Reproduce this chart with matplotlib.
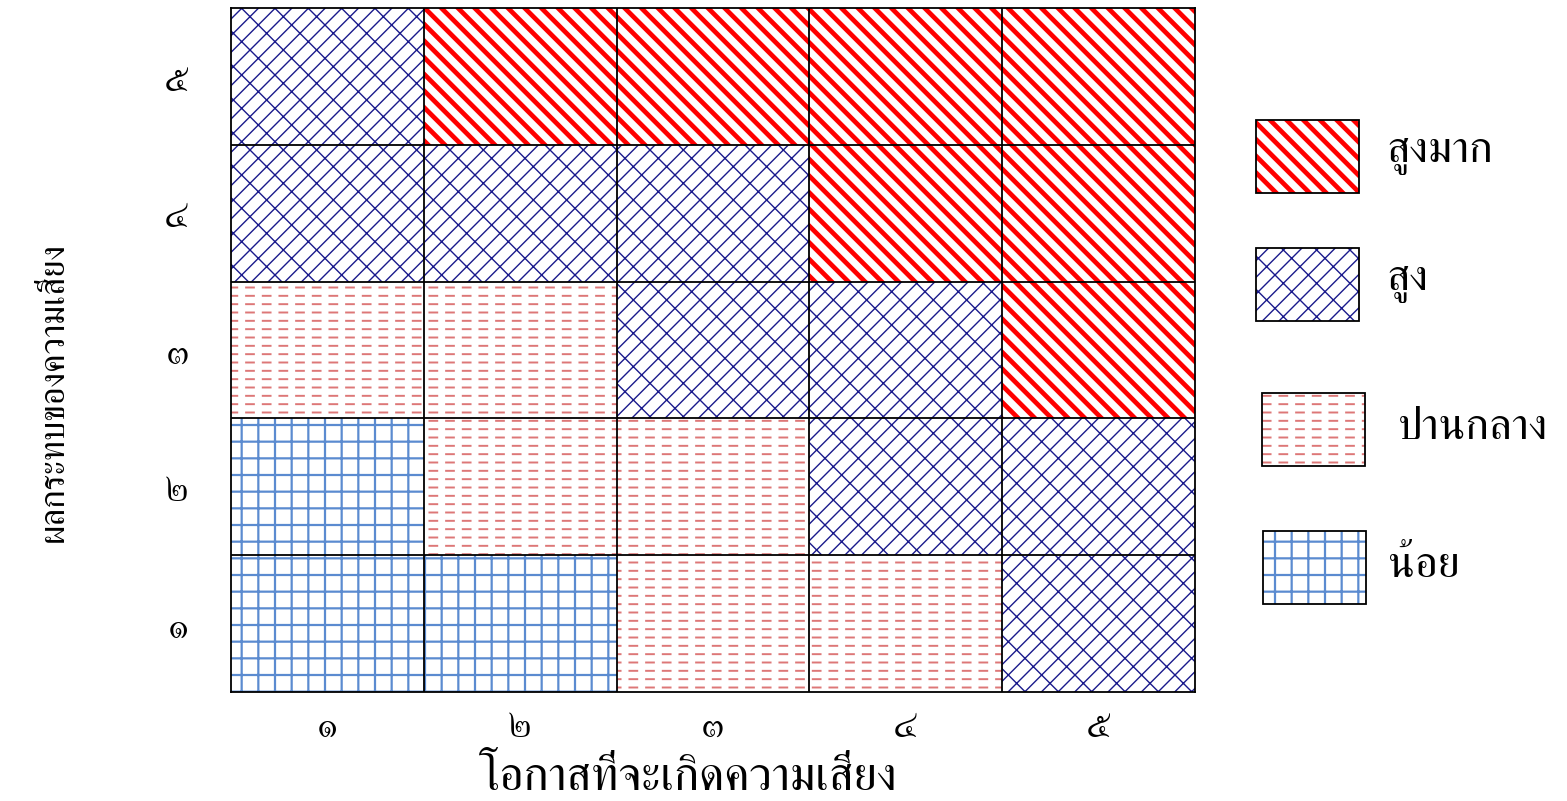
import matplotlib
matplotlib.use("Agg")
import matplotlib.pyplot as plt
from matplotlib.patches import Rectangle

# ---- data ----
x_labels = ["๑", "๒", "๓", "๔", "๕"]
y_labels = ["๑", "๒", "๓", "๔", "๕"]
level_names = ["สูงมาก", "สูง", "ปานกลาง", "น้อย"]

# ระดับความเสี่ยงของแต่ละช่อง (แถว = ผลกระทบ ๑..๕, คอลัมน์ = โอกาส ๑..๕)
# 0 = สูงมาก, 1 = สูง, 2 = ปานกลาง, 3 = น้อย
row_1 = [3, 3, 2, 2, 1]
row_2 = [3, 2, 2, 1, 1]
row_3 = [2, 2, 1, 1, 0]
row_4 = [1, 1, 1, 0, 0]
row_5 = [1, 0, 0, 0, 0]
levels = [row_1, row_2, row_3, row_4, row_5]

THAI = ["FreeSerif", "Noto Serif Thai", "DejaVu Sans"]

# hatch style per level: (hatch, colour, hatch linewidth)
styles = {
    0: ("\\\\", "#ff0000", 3.4),
    1: ("//\\", "#1a1a8c", 1.0),
    2: ("--", "#dd7777", 1.4),
    3: ("+", "#5b8bd0", 1.6),
}


def hatched(ax, x, y, w, h, level, **kw):
    hatch, col, lw = styles[level]
    p = Rectangle((x, y), w, h, facecolor="white", edgecolor=col, hatch=hatch,
                  linewidth=0, **kw)
    p.set_hatch_linewidth(lw)
    ax.add_patch(p)
    if level == 2:
        # break the lines into dashes
        q = Rectangle((x, y), w, h, facecolor="none", edgecolor="white",
                      hatch="|", linewidth=0, **kw)
        q.set_hatch_linewidth(5)
        ax.add_patch(q)


fig = plt.figure(figsize=(15.67, 8.01), dpi=100)
ax = fig.add_axes([231 / 1567, 1 - 692 / 801, (1195 - 231) / 1567, (692 - 8) / 801])

for r, row in enumerate(levels):
    for c, lev in enumerate(row):
        hatched(ax, c, r, 1, 1, lev)

for k in range(1, 5):
    ax.axvline(k, color="black", lw=1.3)
    ax.axhline(k, color="black", lw=1.3)

ax.set_xlim(0, 5)
ax.set_ylim(0, 5)
ax.set_xticks([i + 0.5 for i in range(5)])
ax.set_yticks([i + 0.5 for i in range(5)])
ax.set_xticklabels(x_labels, family=THAI, fontsize=29)
ax.set_yticklabels(y_labels, family=THAI, fontsize=29)
ax.tick_params(axis="x", length=0, pad=12)
ax.tick_params(axis="y", length=0, pad=30)
for s in ax.spines.values():
    s.set_linewidth(1.3)
    s.set_zorder(5)

fig.text(688 / 1567, 1 - 778 / 801, "โอกาสที่จะเกิดความเสี่ยง", family=THAI,
         fontsize=34, ha="center", va="center")
fig.text(55 / 1567, 1 - 392 / 801, "ผลกระทบของความเสี่ยง", family=THAI,
         fontsize=25, ha="center", va="center", rotation=90)

# ---- legend (pixel coordinates) ----
lg = fig.add_axes([0, 0, 1, 1], zorder=-1)
lg.set_xlim(0, 1567)
lg.set_ylim(801, 0)
lg.axis("off")
boxes = [(1256, 120), (1256, 248), (1262, 393), (1263, 531)]
text_x = [1386, 1386, 1398, 1388]
for lev, ((bx, by), tx) in enumerate(zip(boxes, text_x)):
    hatched(lg, bx, by, 103, 73, lev)
    lg.add_patch(Rectangle((bx, by), 103, 73, fill=False, edgecolor="black", lw=1.3))
    lg.text(tx, by + 36, level_names[lev], family=THAI, fontsize=32,
            va="center", ha="left")

fig.savefig("out.png", dpi=100)
